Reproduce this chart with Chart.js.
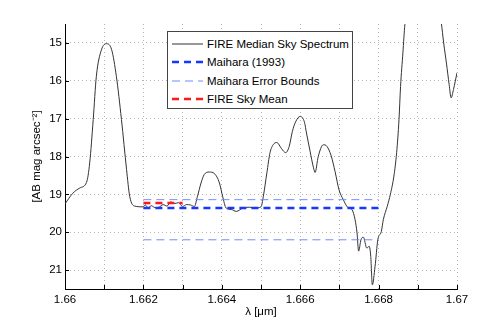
<!DOCTYPE html>
<html>
<head>
<meta charset="utf-8">
<script src="https://cdn.jsdelivr.net/npm/chart.js@4"></script>
<style>
  body { margin: 0; background: #fff; }
  #wrap { position: relative; width: 504px; height: 326px; }
  #legend {
    position: absolute; left: 167px; top: 31px; width: 186px; height: 78px;
    box-sizing: border-box; border: 1px solid #444; background: #fff;
    padding-top: 3px;
    font-family: "Liberation Sans", Arial, sans-serif; font-size: 11.5px; color: #000;
  }
  .row { height: 18.3px; display: flex; align-items: center; }
  .row svg { margin-left: 4px; margin-right: 4px; }
</style>
</head>
<body>
<div id="wrap">
  <canvas id="chart" width="504" height="326"></canvas>
  <div id="legend"></div>
</div>
<script>
// wavelength (um) and sky brightness (AB mag/arcsec^2)
const specWave = [
  1.66000, 1.66020, 1.66038, 1.66055, 1.66063, 1.66072, 1.66080, 1.66093, 1.66106, 1.66119,
  1.66131, 1.66144, 1.66157, 1.66165, 1.66178, 1.66199, 1.66205, 1.66212, 1.66220, 1.66230,
  1.66240, 1.66250, 1.66260, 1.66270, 1.66280, 1.66290, 1.66300, 1.66310, 1.66320, 1.66330,
  1.66338, 1.66347, 1.66355, 1.66368, 1.66381, 1.66394, 1.66402, 1.66411, 1.66424, 1.66437,
  1.66454, 1.66471, 1.66485, 1.66500, 1.66506, 1.66515, 1.66523, 1.66531, 1.66540, 1.66553,
  1.66563, 1.66572, 1.66580, 1.66589, 1.66600, 1.66611, 1.66616, 1.66625, 1.66634, 1.66638,
  1.66646, 1.66659, 1.66668, 1.66679, 1.66689, 1.66699, 1.66710, 1.66721, 1.66732, 1.66740,
  1.66745, 1.66749, 1.66755, 1.66761, 1.66770, 1.66776, 1.66780, 1.66784, 1.66791, 1.66798,
  1.66807, 1.66812, 1.66822, 1.66830, 1.66839, 1.66846, 1.66852, 1.66856, 1.66862, 1.66867,
  1.66880, 1.66920, 1.66950, 1.66960, 1.66966, 1.66973, 1.66980, 1.66985, 1.66991, 1.67000
];
const specMag = [
  19.25, 18.97, 18.83, 18.68, 18.17, 17.02, 15.88, 15.18, 15.02, 15.18,
  15.88, 17.02, 18.34, 19.05, 19.31, 19.33, 19.28, 19.36, 19.30, 19.35,
  19.34, 19.27, 19.31, 19.20, 19.24, 19.22, 19.32, 19.27, 19.28, 19.32,
  19.05, 18.70, 18.48, 18.41, 18.45, 18.70, 19.05, 19.36, 19.40, 19.45,
  19.36, 19.34, 19.36, 19.33, 19.05, 18.43, 17.90, 17.69, 17.63, 17.80,
  17.90, 17.73, 17.34, 17.07, 16.94, 17.10, 17.38, 17.85, 18.30, 18.42,
  18.00, 17.69, 17.73, 17.98, 18.40, 18.88, 19.14, 19.34, 19.40, 19.67,
  20.02, 20.50, 20.20, 20.13, 20.42, 20.37, 20.64, 21.39, 20.90, 20.20,
  19.98, 19.67, 19.32, 19.00, 18.52, 17.90, 17.03, 16.15, 15.26, 14.52,
  13.60, 13.20, 13.80, 14.47, 15.00, 15.53, 16.10, 16.45, 16.23, 15.79
];

const maiharaWave = [1.662, 1.668];
const maiharaMag = [19.36, 19.36];
const maiharaUpperMag = [19.14, 19.14];
const maiharaLowerMag = [20.2, 20.2];
const fireMeanWave = [1.662, 1.663];
const fireMeanMag = [19.23, 19.23];

const xTicks = [1.660, 1.661, 1.662, 1.663, 1.664, 1.665, 1.666, 1.667, 1.668, 1.669, 1.670];
const xTickLabels = ['1.66', '', '1.662', '', '1.664', '', '1.666', '', '1.668', '', '1.67'];
const yTicks = [15, 16, 17, 18, 19, 20, 21];
const yTickLabels = ['15', '16', '17', '18', '19', '20', '21'];

const seriesNames = ['FIRE Median Sky Spectrum', 'Maihara (1993)', 'Maihara Error Bounds', 'FIRE Sky Mean'];

const FONT = { family: '"Liberation Sans", Arial, sans-serif', size: 11.5 };

function pts(xs, ys) { return xs.map((x, i) => ({ x: x, y: ys[i] })); }

// MATLAB-like inward tick marks
const innerTicks = {
  id: 'innerTicks',
  afterDraw(chart) {
    const { ctx, chartArea: a, scales } = chart;
    ctx.save();
    ctx.strokeStyle = '#000';
    ctx.lineWidth = 1;
    ctx.beginPath();
    xTicks.forEach(v => {
      const px = Math.round(scales.x.getPixelForValue(v)) + 0.5;
      ctx.moveTo(px, a.bottom); ctx.lineTo(px, a.bottom - 4);
    });
    yTicks.forEach(v => {
      const py = Math.round(scales.y.getPixelForValue(v)) + 0.5;
      ctx.moveTo(a.left, py); ctx.lineTo(a.left + 4, py);
    });
    ctx.stroke();
    ctx.restore();
  }
};

const dashThick = [7, 5];
const dashThin = [8, 5];
const boundColor = '#6f8cff';

new Chart(document.getElementById('chart'), {
  type: 'line',
  data: {
    datasets: [
      { label: seriesNames[3], data: pts(fireMeanWave, fireMeanMag), borderColor: '#ff1a1a', borderWidth: 2.5, borderDash: dashThick, pointRadius: 0 },
      { label: seriesNames[2], data: pts(maiharaWave, maiharaUpperMag), borderColor: boundColor, borderWidth: 1, borderDash: dashThin, pointRadius: 0 },
      { label: seriesNames[2], data: pts(maiharaWave, maiharaLowerMag), borderColor: boundColor, borderWidth: 1, borderDash: dashThin, pointRadius: 0 },
      { label: seriesNames[1], data: pts(maiharaWave, maiharaMag), borderColor: '#1438ff', borderWidth: 2.5, borderDash: dashThick, pointRadius: 0 },
      { label: seriesNames[0], data: pts(specWave, specMag), borderColor: '#333', borderWidth: 1, pointRadius: 0, cubicInterpolationMode: 'monotone' }
    ]
  },
  options: {
    responsive: false,
    animation: false,
    events: [],
    layout: { padding: { top: 24, right: 47, left: 0, bottom: 0 } },
    plugins: { legend: { display: false }, tooltip: { enabled: false } },
    scales: {
      x: {
        type: 'linear', min: 1.66, max: 1.67,
        afterBuildTicks: s => { s.ticks = xTicks.map(v => ({ value: v })); },
        afterFit: s => { s.height = 37; },
        grid: { color: '#b5b5b5', drawTicks: false },
        border: { display: true, color: '#000', width: 1, dash: [1, 3] },
        ticks: { autoSkip: false, maxRotation: 0, padding: 4, color: '#000', font: FONT,
                 callback: (v, i) => xTickLabels[i] },
        title: { display: true, text: 'λ [μm]', color: '#000', font: FONT, padding: { top: 0, bottom: 7 } }
      },
      y: {
        type: 'linear', min: 14.5, max: 21.5, reverse: true,
        afterBuildTicks: s => { s.ticks = yTicks.map(v => ({ value: v })); },
        afterFit: s => { s.width = 65; },
        grid: { color: '#b5b5b5', drawTicks: false },
        border: { display: true, color: '#000', width: 1, dash: [1, 3] },
        ticks: { padding: 3, color: '#000', font: FONT, callback: (v, i) => yTickLabels[i] },
        title: { display: true, text: '[AB mag arcsec⁻²]', color: '#000', font: FONT, padding: { top: 30, bottom: 0 } }
      }
    }
  },
  plugins: [innerTicks]
});

// legend box drawn over the plot, like the original figure
const swatches = [
  { color: '#333', width: 1, dash: '' },
  { color: '#1438ff', width: 2.5, dash: '7,5' },
  { color: boundColor, width: 1, dash: '8,5' },
  { color: '#ff1a1a', width: 2.5, dash: '7,5' }
];
document.getElementById('legend').innerHTML = seriesNames.map((name, i) => {
  const s = swatches[i];
  return `<div class="row"><svg width="31" height="6"><line x1="0" y1="3" x2="31" y2="3" stroke="${s.color}" stroke-width="${s.width}" stroke-dasharray="${s.dash}"/></svg><span>${name}</span></div>`;
}).join('');
</script>
</body>
</html>
